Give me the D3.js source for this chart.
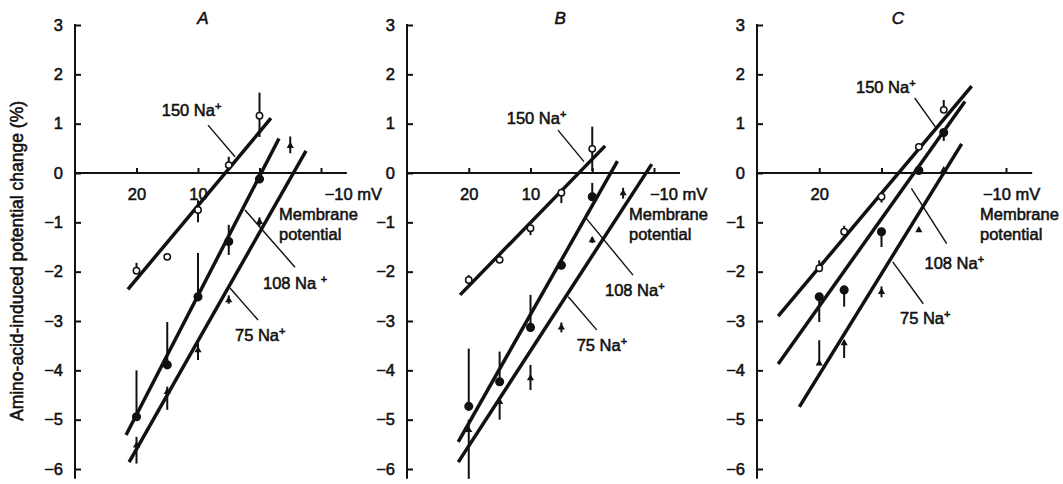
<!DOCTYPE html>
<html>
<head>
<meta charset="utf-8">
<script src="https://cdn.jsdelivr.net/npm/d3@7"></script>
<style>
  body { margin: 0; background: #fff; }
  svg { display: block; font-family: "Liberation Sans", Arial, sans-serif; }
  text { fill: #111; stroke: #111; stroke-width: 0.55px; }
</style>
</head>
<body>
<script>
// membrane potential ticks (mV) and response ticks (%)
const mvTicks = [20, 10, 0, -10];
const pctTicks = [3, 2, 1, 0, -1, -2, -3, -4, -5, -6];

// points: [mV, mean, low, high]
const a150 = [[20, -1.98, -1.98, -1.82], [15, -1.70, -1.70, -1.70], [10, -0.75, -1.0, -0.55], [5, 0.16, 0.16, 0.33], [0, 1.16, 0.73, 1.63]];
const a108 = [[20, -4.94, -4.94, -4.0], [15, -3.89, -3.89, -3.02], [10, -2.51, -2.51, -1.62], [5, -1.39, -1.66, -1.05], [0, -0.12, -0.2, -0.05]];
const a75 = [[20, -5.52, -5.89, -5.35], [15, -4.44, -4.8, -4.33], [10, -3.59, -3.79, -3.45], [5, -2.58, -2.65, -2.48], [0, -0.99, -1.08, -0.9], [-5, 0.55, 0.40, 0.74]];

const b150 = [[20, -2.17, -2.17, -2.07], [15, -1.76, -1.76, -1.66], [10, -1.12, -1.26, -1.12], [5, -0.40, -0.61, -0.32], [0, 0.49, 0.04, 0.94]];
const b108 = [[20, -4.73, -4.73, -3.56], [15, -4.23, -4.23, -3.62], [10, -3.13, -3.13, -2.47], [5, -1.87, -1.95, -1.80], [0, -0.48, -0.48, -0.2]];
const b75 = [[20, -5.21, -6.2, -5.0], [15, -4.64, -5.0, -4.54], [10, -4.16, -4.40, -3.89], [5, -3.13, -3.23, -3.03], [0, -1.36, -1.42, -1.3], [-5, -0.41, -0.52, -0.3]];

const c150 = [[20, -1.93, -1.93, -1.77], [16, -1.19, -1.19, -1.07], [10, -0.48, -0.6, -0.48], [4, 0.53, 0.53, 0.53], [0, 1.28, 1.28, 1.48]];
const c108 = [[20, -2.51, -3.02, -2.51], [16, -2.37, -2.71, -2.37], [10, -1.19, -1.5, -1.19], [4, 0.05, 0.05, 0.05], [0, 0.82, 0.65, 0.87]];
const c75 = [[20, -3.86, -3.86, -3.39], [16, -3.45, -3.75, -3.39], [10, -2.41, -2.52, -2.3], [4, -1.16, -1.16, -1.16], [0, 0.06, 0.06, 0.06]];

// fitted lines: [[mV, %], [mV, %]]
const a150Fit = [[21.4, -2.36], [-1.87, 1.11]];
const a108Fit = [[21.7, -5.31], [-3.17, 0.70]];
const a75Fit = [[21.2, -5.86], [-7.56, 0.45]];
const b150Fit = [[21.4, -2.47], [-2.09, 0.55]];
const b108Fit = [[21.7, -5.45], [-4.08, 0.24]];
const b75Fit = [[21.7, -5.86], [-9.64, 0.18]];
const c150Fit = [[26.6, -2.90], [-4.49, 1.76]];
const c108Fit = [[26.6, -3.87], [-3.41, 1.45]];
const c75Fit = [[23.2, -4.74], [-2.88, 0.59]];

const W = 1063, H = 484;

// layout per panel; label spots are in data units (mV, %)
const panels = [
  {
    title: "A", left: 75, width: 246, titleAt: 9.2, mvLabelAt: -10.6, memAt: -3.17, tickText: [20, 10],
    series: [[a150, a150Fit, "open"], [a108, a108Fit, "filled"], [a75, a75Fit, "small"]],
    notes: [
      {text: "150 Na", sup: "+", at: [15.9, 1.16], from: [8.37, 0.97], to: [3.98, 0.33]},
      {text: "108 Na ", sup: "+", at: [-0.57, -2.35], from: [2.36, -0.75], to: [-5.77, -1.91]},
      {text: "75 Na", sup: "+", at: [3.98, -3.41], from: [4.8, -2.33], to: [0.24, -2.98]}
    ]
  },
  {
    title: "B", left: 407, width: 247, titleAt: 5.2, mvLabelAt: -9.35, memAt: -5.95, tickText: [20, 10],
    series: [[b150, b150Fit, "open"], [b108, b108Fit, "filled"], [b75, b75Fit, "small"]],
    notes: [
      {text: "150 Na", sup: "+", at: [13.85, 0.99], from: [5.55, 0.87], to: [1.34, 0.23]},
      {text: "108 Na", sup: "+", at: [-2.06, -2.49], from: [1.17, -0.89], to: [-6.6, -2.07]},
      {text: "75 Na", sup: "+", at: [2.52, -3.61], from: [3.88, -2.51], to: [-0.72, -3.18]}
    ]
  },
  {
    title: "C", left: 757, width: 249, titleAt: 7.35, mvLabelAt: -6.3, memAt: -5.82, tickText: [20],
    series: [[c150, c150Fit, "open"], [c108, c108Fit, "filled"], [c75, c75Fit, "small"]],
    notes: [
      {text: "150 Na", sup: "+", at: [14.1, 1.62], from: [4.67, 1.52], to: [1.2, 0.91]},
      {text: "108 Na", sup: "+", at: [3.09, -1.95], from: [5.2, -0.31], to: [-0.47, -1.43]},
      {text: "75 Na", sup: "+", at: [7.03, -3.06], from: [8.2, -1.8], to: [3.29, -2.65]}
    ]
  }
];

const svg = d3.select("body").append("svg")
  .attr("width", W)
  .attr("height", H);

const y = d3.scaleLinear().domain([-6, 3]).range([469, 25]);

svg.append("text")
  .attr("transform", `translate(23, 261) rotate(-90)`)
  .attr("text-anchor", "middle")
  .style("font-size", "17.5px")
  .text("Amino-acid-induced potential change (%)");

panels.forEach(p => {
  const x = d3.scaleLinear().domain([30, -10]).range([p.left, p.left + p.width]);
  const g = svg.append("g");

  // y axis, ticks pointing inward
  const yAxis = g.append("g")
    .attr("transform", `translate(${p.left},0)`)
    .call(d3.axisLeft(y).tickValues(pctTicks).tickSize(-6).tickPadding(12));
  yAxis.select(".domain").remove();
  yAxis.selectAll(".tick line").attr("stroke", "#111").attr("stroke-width", 2);
  yAxis.selectAll(".tick text").style("font-size", "16.5px").attr("fill", "#111");
  g.append("line")
    .attr("x1", p.left).attr("x2", p.left)
    .attr("y1", y(3) - 1).attr("y2", y(-6.2))
    .attr("stroke", "#111").attr("stroke-width", 2);

  // x axis along zero
  const xAxis = g.append("g")
    .attr("transform", `translate(0,${y(0)})`)
    .call(d3.axisBottom(x).tickValues(mvTicks).tickSize(-5).tickPadding(15)
      .tickFormat(d => p.tickText.includes(d) ? d : ""));
  xAxis.select(".domain").remove();
  xAxis.selectAll(".tick line").attr("stroke", "#111").attr("stroke-width", 2);
  xAxis.selectAll(".tick text").style("font-size", "16.5px").attr("fill", "#111");
  g.append("line")
    .attr("x1", x(30)).attr("x2", x(-14.2))
    .attr("y1", y(0)).attr("y2", y(0))
    .attr("stroke", "#111").attr("stroke-width", 2);

  g.append("text")
    .attr("x", x(p.mvLabelAt)).attr("y", y(0) + 27)
    .style("font-size", "16.5px")
    .text("\u221210 mV");
  const mem = g.append("text")
    .attr("x", x(p.memAt)).attr("y", y(0) + 47)
    .style("font-size", "16.5px");
  mem.append("tspan").text("Membrane");
  mem.append("tspan").attr("x", x(p.memAt)).attr("dy", 20).text("potential");

  g.append("text")
    .attr("x", x(p.titleAt)).attr("y", 24)
    .attr("text-anchor", "middle")
    .style("font-size", "17px")
    .style("font-style", "italic")
    .text(p.title);

  const line = d3.line().x(d => x(d[0])).y(d => y(d[1]));

  p.series.forEach(([pts, fit, kind]) => {
    g.append("path")
      .attr("d", line(fit))
      .attr("fill", "none")
      .attr("stroke", "#111")
      .attr("stroke-width", 3.5);

    g.selectAll(null)
      .data(pts)
      .join("line")
      .attr("x1", d => x(d[0])).attr("x2", d => x(d[0]))
      .attr("y1", d => y(d[2])).attr("y2", d => y(d[3]))
      .attr("stroke", "#111")
      .attr("stroke-width", 2);

    if (kind === "small") {
      g.selectAll(null)
        .data(pts)
        .join("path")
        .attr("transform", d => `translate(${x(d[0])},${y(d[1])})`)
        .attr("d", d3.symbol(d3.symbolTriangle, 22))
        .attr("fill", "#111");
    } else {
      g.selectAll(null)
        .data(pts)
        .join("circle")
        .attr("cx", d => x(d[0]))
        .attr("cy", d => y(d[1]))
        .attr("r", kind === "open" ? 3.2 : 3.8)
        .attr("fill", kind === "open" ? "#fff" : "#111")
        .attr("stroke", "#111")
        .attr("stroke-width", 1.5);
    }
  });

  p.notes.forEach(n => {
    g.append("line")
      .attr("x1", x(n.from[0])).attr("y1", y(n.from[1]))
      .attr("x2", x(n.to[0])).attr("y2", y(n.to[1]))
      .attr("stroke", "#111")
      .attr("stroke-width", 1.4);
    const t = g.append("text")
      .attr("x", x(n.at[0])).attr("y", y(n.at[1]))
      .style("font-size", "16.5px");
    t.append("tspan").text(n.text);
    t.append("tspan")
      .attr("dy", -6)
      .style("font-size", "11px")
      .text(n.sup);
  });
});
</script>
</body>
</html>
